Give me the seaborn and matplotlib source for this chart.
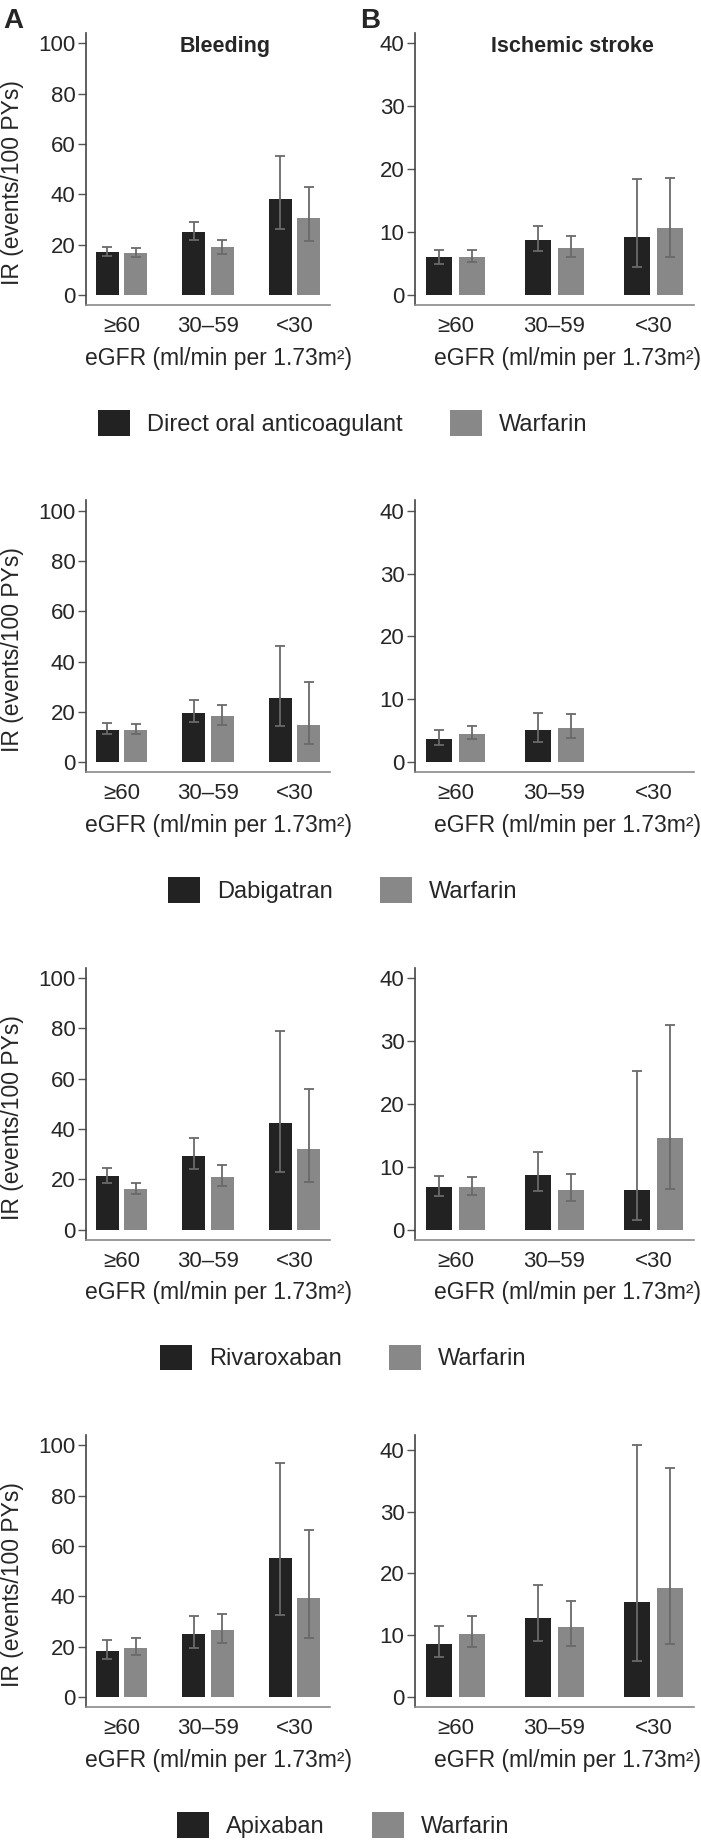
# IR of bleeding and ischemic stroke by eGFR, DOACs vs warfarin
import numpy as np
import pandas as pd
import matplotlib
matplotlib.use('Agg')
import matplotlib.pyplot as plt
import seaborn as sns

sns.set_style('white')
plt.rcParams['font.family'] = ['Liberation Sans', 'DejaVu Sans']

# data
egfr = ['≥60', '30–59', '<30']
drugs = ['Direct oral anticoagulant', 'Dabigatran', 'Rivaroxaban', 'Apixaban']

# bleeding, per row: drug then warfarin (IR, lower CI, upper CI)
doac_bleed = [17.2, 25.2, 38.0]
doac_bleed_lo = [15.5, 21.9, 26.2]
doac_bleed_hi = [19.2, 29.1, 55.2]
doac_warf_bleed = [16.6, 19.0, 30.5]
doac_warf_bleed_lo = [15.0, 16.3, 21.6]
doac_warf_bleed_hi = [18.5, 21.9, 43.0]

dabi_bleed = [13.0, 19.6, 25.6]
dabi_bleed_lo = [11.3, 15.9, 14.6]
dabi_bleed_hi = [15.6, 24.9, 46.4]
dabi_warf_bleed = [13.0, 18.3, 15.0]
dabi_warf_bleed_lo = [11.4, 15.0, 7.4]
dabi_warf_bleed_hi = [15.4, 22.7, 31.8]

riva_bleed = [21.3, 29.2, 42.4]
riva_bleed_lo = [18.7, 24.0, 22.8]
riva_bleed_hi = [24.6, 36.2, 78.8]
riva_warf_bleed = [16.3, 21.1, 32.2]
riva_warf_bleed_lo = [14.3, 17.3, 18.8]
riva_warf_bleed_hi = [18.7, 25.7, 55.7]

apix_bleed = [18.3, 24.9, 55.1]
apix_bleed_lo = [14.9, 19.3, 32.6]
apix_bleed_hi = [22.5, 32.2, 93.0]
apix_warf_bleed = [19.6, 26.5, 39.2]
apix_warf_bleed_lo = [16.5, 21.3, 23.3]
apix_warf_bleed_hi = [23.6, 32.9, 66.2]

# ischemic stroke
doac_stroke = [6.0, 8.7, 9.2]
doac_stroke_lo = [5.0, 7.0, 4.5]
doac_stroke_hi = [7.15, 10.9, 18.4]
doac_warf_stroke = [6.0, 7.4, 10.6]
doac_warf_stroke_lo = [5.2, 6.0, 6.0]
doac_warf_stroke_hi = [7.1, 9.3, 18.65]

dabi_stroke = [3.7, 5.1, np.nan]
dabi_stroke_lo = [2.8, 3.3, np.nan]
dabi_stroke_hi = [5.1, 7.85, np.nan]
dabi_warf_stroke = [4.5, 5.4, np.nan]
dabi_warf_stroke_lo = [3.7, 3.9, np.nan]
dabi_warf_stroke_hi = [5.7, 7.7, np.nan]

riva_stroke = [6.8, 8.6, 6.3]
riva_stroke_lo = [5.4, 6.1, 1.6]
riva_stroke_hi = [8.5, 12.3, 25.2]
riva_warf_stroke = [6.7, 6.25, 14.6]
riva_warf_stroke_lo = [5.5, 4.5, 6.5]
riva_warf_stroke_hi = [8.3, 8.9, 32.5]

apix_stroke = [8.5, 12.8, 15.3]
apix_stroke_lo = [6.4, 9.1, 5.8]
apix_stroke_hi = [11.5, 18.1, 40.8]
apix_warf_stroke = [10.2, 11.25, 17.7]
apix_warf_stroke_lo = [8.05, 8.3, 8.5]
apix_warf_stroke_hi = [13.1, 15.5, 37.1]

bleed_rows = [
    (doac_bleed, doac_bleed_lo, doac_bleed_hi, doac_warf_bleed, doac_warf_bleed_lo, doac_warf_bleed_hi),
    (dabi_bleed, dabi_bleed_lo, dabi_bleed_hi, dabi_warf_bleed, dabi_warf_bleed_lo, dabi_warf_bleed_hi),
    (riva_bleed, riva_bleed_lo, riva_bleed_hi, riva_warf_bleed, riva_warf_bleed_lo, riva_warf_bleed_hi),
    (apix_bleed, apix_bleed_lo, apix_bleed_hi, apix_warf_bleed, apix_warf_bleed_lo, apix_warf_bleed_hi),
]
stroke_rows = [
    (doac_stroke, doac_stroke_lo, doac_stroke_hi, doac_warf_stroke, doac_warf_stroke_lo, doac_warf_stroke_hi),
    (dabi_stroke, dabi_stroke_lo, dabi_stroke_hi, dabi_warf_stroke, dabi_warf_stroke_lo, dabi_warf_stroke_hi),
    (riva_stroke, riva_stroke_lo, riva_stroke_hi, riva_warf_stroke, riva_warf_stroke_lo, riva_warf_stroke_hi),
    (apix_stroke, apix_stroke_lo, apix_stroke_hi, apix_warf_stroke, apix_warf_stroke_lo, apix_warf_stroke_hi),
]

DARK = '#222222'
GRAY = '#888888'
ERR = '#6a6a6a'

W, H = 701, 1842
ROW_STEP = 467.3


def draw_panel(ax, drug, vals, ylim, yticks):
    ir_d, lo_d, hi_d, ir_w, lo_w, hi_w = vals
    df = pd.DataFrame({
        'egfr': egfr * 2,
        'group': [drug] * 3 + ['Warfarin'] * 3,
        'ir': list(ir_d) + list(ir_w),
    })
    sns.barplot(data=df, x='egfr', y='ir', hue='group', order=egfr,
                hue_order=[drug, 'Warfarin'], palette=[DARK, GRAY],
                saturation=1, width=0.66, gap=0.2, errorbar=None,
                linewidth=0, legend=False, ax=ax)
    ci = [(lo_d, hi_d), (lo_w, hi_w)]
    for container, (lo, hi) in zip(ax.containers, ci):
        for bar in container:
            h = bar.get_height()
            if np.isnan(h):
                continue
            xc = bar.get_x() + bar.get_width() / 2
            i = int(round(xc))
            ax.errorbar(xc, h, yerr=[[h - lo[i]], [hi[i] - h]], fmt='none',
                        ecolor=ERR, elinewidth=1.3, capsize=3.3, capthick=1.3)
    ax.set_xlim(-0.41, 2.41)
    ax.set_ylim(*ylim)
    ax.set_yticks(yticks)
    ax.set_xlabel('eGFR (ml/min per 1.73m²)', fontsize=16.5, labelpad=7)
    ax.xaxis.label.set_x(0.545)
    ax.set_ylabel('')
    sns.despine(ax=ax)
    ax.spines['left'].set_color('#444444')
    ax.spines['bottom'].set_color('#8a8a8a')
    ax.spines['left'].set_linewidth(1.2)
    ax.spines['bottom'].set_linewidth(1.2)
    ax.tick_params(axis='y', left=True, length=6, width=1, color='#555555',
                   pad=1.5, labelsize=16)
    ax.tick_params(axis='x', bottom=False, length=0, pad=8, labelsize=16)
    return ax


fig = plt.figure(figsize=(W / 100, H / 100), dpi=100)

for r in range(4):
    top = 33 + r * ROW_STEP
    bottom = 305 + r * ROW_STEP
    axl = fig.add_axes([86 / W, 1 - bottom / H, 244 / W, (bottom - top) / H])
    axr = fig.add_axes([415 / W, 1 - bottom / H, 279 / W, (bottom - top) / H])

    draw_panel(axl, drugs[r], bleed_rows[r], (-3.97, 104.1), [0, 20, 40, 60, 80, 100])
    if r == 3:
        draw_panel(axr, drugs[r], stroke_rows[r], (-1.62, 42.43), [0, 10, 20, 30, 40])
    else:
        draw_panel(axr, drugs[r], stroke_rows[r], (-1.59, 41.64), [0, 10, 20, 30, 40])

    axl.set_ylabel('IR (events/100 PYs)', fontsize=16.5)
    axl.yaxis.set_label_coords(-0.255, 0.45)

    if r == 0:
        axl.text(0.57, 0.949, 'Bleeding', transform=axl.transAxes,
                 ha='center', va='center', fontsize=15.5, fontweight='bold')
        axr.text(0.563, 0.949, 'Ischemic stroke', transform=axr.transAxes,
                 ha='center', va='center', fontsize=15.5, fontweight='bold')

    fig.legend(handles=list(axl.containers), labels=[drugs[r], 'Warfarin'],
               loc='center', bbox_to_anchor=(343 / W, 1 - (423 + r * ROW_STEP) / H),
               ncol=2, frameon=False, fontsize=17, handlelength=1.36,
               handleheight=1.3, handletextpad=0.72, columnspacing=2.0)

fig.text(3 / W, 1 - 8 / H, 'A', ha='left', va='top', fontsize=20, fontweight='bold')
fig.text(360 / W, 1 - 8 / H, 'B', ha='left', va='top', fontsize=20, fontweight='bold')

fig.savefig('out.png', dpi=100)
plt.close(fig)
